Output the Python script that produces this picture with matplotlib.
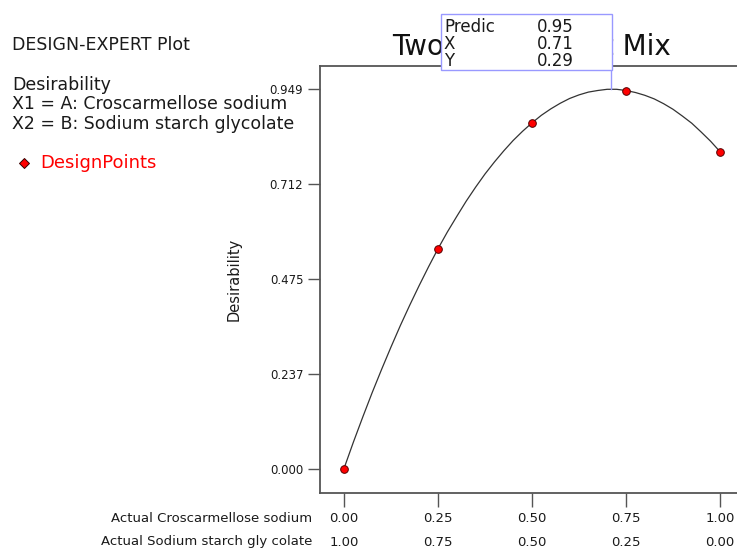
import matplotlib
matplotlib.use("Agg")
import matplotlib.pyplot as plt
from matplotlib.patches import Rectangle

plt.rcParams['font.family'] = ['DejaVu Sans']

# ---- data ----
design_a = [0.00, 0.25, 0.50, 0.75, 1.00]
design_desir = [0.000, 0.549, 0.865, 0.945, 0.793]

curve_a = [0.000, 0.025, 0.050, 0.075, 0.100, 0.125, 0.150, 0.175, 0.200, 0.225,
           0.250, 0.275, 0.300, 0.325, 0.350, 0.375, 0.400, 0.425, 0.450, 0.475,
           0.500, 0.525, 0.550, 0.575, 0.600, 0.625, 0.650, 0.675, 0.700, 0.725,
           0.750, 0.775, 0.800, 0.825, 0.850, 0.875, 0.900, 0.925, 0.950, 0.975, 1.000]
curve_desir = [0.000, 0.066, 0.129, 0.190, 0.248, 0.304, 0.358, 0.409, 0.458, 0.505,
               0.550, 0.592, 0.631, 0.669, 0.704, 0.737, 0.767, 0.795, 0.821, 0.844,
               0.865, 0.884, 0.900, 0.914, 0.926, 0.935, 0.942, 0.946, 0.949, 0.949,
               0.946, 0.941, 0.934, 0.925, 0.913, 0.899, 0.882, 0.864, 0.842, 0.819, 0.793]

yticks = [0.000, 0.237, 0.475, 0.712, 0.949]
ytick_labels = ["0.000", "0.237", "0.475", "0.712", "0.949"]
xticks = [0.00, 0.25, 0.50, 0.75, 1.00]
x1_labels = ["0.00", "0.25", "0.50", "0.75", "1.00"]
x2_labels = ["1.00", "0.75", "0.50", "0.25", "0.00"]

pred_value = "0.95"
pred_x = 0.71
pred_y = 0.29
pred_desir = 0.949

W, H = 737, 549
fig = plt.figure(figsize=(W / 100, H / 100), dpi=100)

def fx(px):
    return px / W

def fy(py):
    return 1 - py / H

txt_col = "#1a1a1a"

# main axes (extends slightly beyond right edge)
ax = fig.add_axes([fx(320), fy(493), (745 - 320) / W, (493 - 66) / H])
ax.set_xlim(-0.0638, 1.0665)
ax.set_ylim(-0.0613, 1.0073)

spine_col = "#555555"
for s in ["left", "top", "bottom"]:
    ax.spines[s].set_color(spine_col)
    ax.spines[s].set_linewidth(1.3)
ax.spines["right"].set_visible(False)

ax.plot(curve_a, curve_desir, color="#333333", lw=0.9, zorder=2)
ax.plot(design_a, design_desir, linestyle="none", marker="o", ms=5.5,
        mfc="red", mec="#550000", mew=0.7, zorder=3)

# pointer line from prediction box to curve
ax.plot([pred_x, pred_x], [pred_desir, 0.997], color="#9999ff", lw=1.0, zorder=4)

ax.set_yticks(yticks)
ax.set_yticklabels(ytick_labels, fontsize=8.5, color=txt_col)
ax.tick_params(axis="y", direction="out", length=9, width=1, color=spine_col, pad=3)
ax.set_xticks(xticks)
ax.set_xticklabels([])
ax.tick_params(axis="x", direction="out", length=10, width=1, color=spine_col)

ax.set_ylabel("Desirability", fontsize=10.5, labelpad=20, color=txt_col)

# overlay in pixel coordinates for text blocks
ov = fig.add_axes([0, 0, 1, 1], zorder=10)
ov.set_xlim(0, W)
ov.set_ylim(H, 0)
ov.axis("off")
ov.patch.set_alpha(0)

# bottom x labels rows (aligned with main-axis ticks)
for xv, l1, l2 in zip(xticks, x1_labels, x2_labels):
    ax.annotate(l1, xy=(xv, 0), xycoords=("data", "axes fraction"),
                xytext=(0, -25), textcoords="offset pixels",
                ha="center", va="center", fontsize=9.5, color=txt_col,
                annotation_clip=False)
    ax.annotate(l2, xy=(xv, 0), xycoords=("data", "axes fraction"),
                xytext=(0, -49), textcoords="offset pixels",
                ha="center", va="center", fontsize=9.5, color=txt_col,
                annotation_clip=False)
ov.text(312, 518, "Actual Croscarmellose sodium", ha="right", va="center", fontsize=9.5, color=txt_col)
ov.text(312, 542, "Actual Sodium starch gly colate", ha="right", va="center", fontsize=9.5, color=txt_col)

# left annotation block
ov.text(12, 45, "DESIGN-EXPERT Plot", ha="left", va="center", fontsize=12.5, color=txt_col)
ov.text(12, 85, "Desirability", ha="left", va="center", fontsize=12.5, color=txt_col)
ov.text(12, 104, "X1 = A: Croscarmellose sodium", ha="left", va="center", fontsize=12.5, color=txt_col)
ov.text(12, 124, "X2 = B: Sodium starch glycolate", ha="left", va="center", fontsize=12.5, color=txt_col)
ov.plot([24], [163], marker="D", ms=5, mfc="red", mec="#330000", mew=0.7, linestyle="none")
ov.text(40, 163, "DesignPoints", ha="left", va="center", fontsize=13, color="red")

# title
ov.text(532, 47, "Two Component Mix", ha="center", va="center", fontsize=20,
        color="#111111", zorder=1)

# prediction box
ov.add_patch(Rectangle((441, 14), 171, 56, facecolor="white", edgecolor="#9999ff",
                       lw=1.0, zorder=5))
rows = [("Predic", pred_value, 27), ("X", f"{pred_x:.2f}", 44), ("Y", f"{pred_y:.2f}", 61)]
for lab, val, yy in rows:
    ov.text(444, yy, lab, ha="left", va="center", fontsize=12, color=txt_col, zorder=6)
    ov.text(574, yy, val, ha="right", va="center", fontsize=12, color=txt_col, zorder=6)

fig.savefig("out.png", dpi=100)
